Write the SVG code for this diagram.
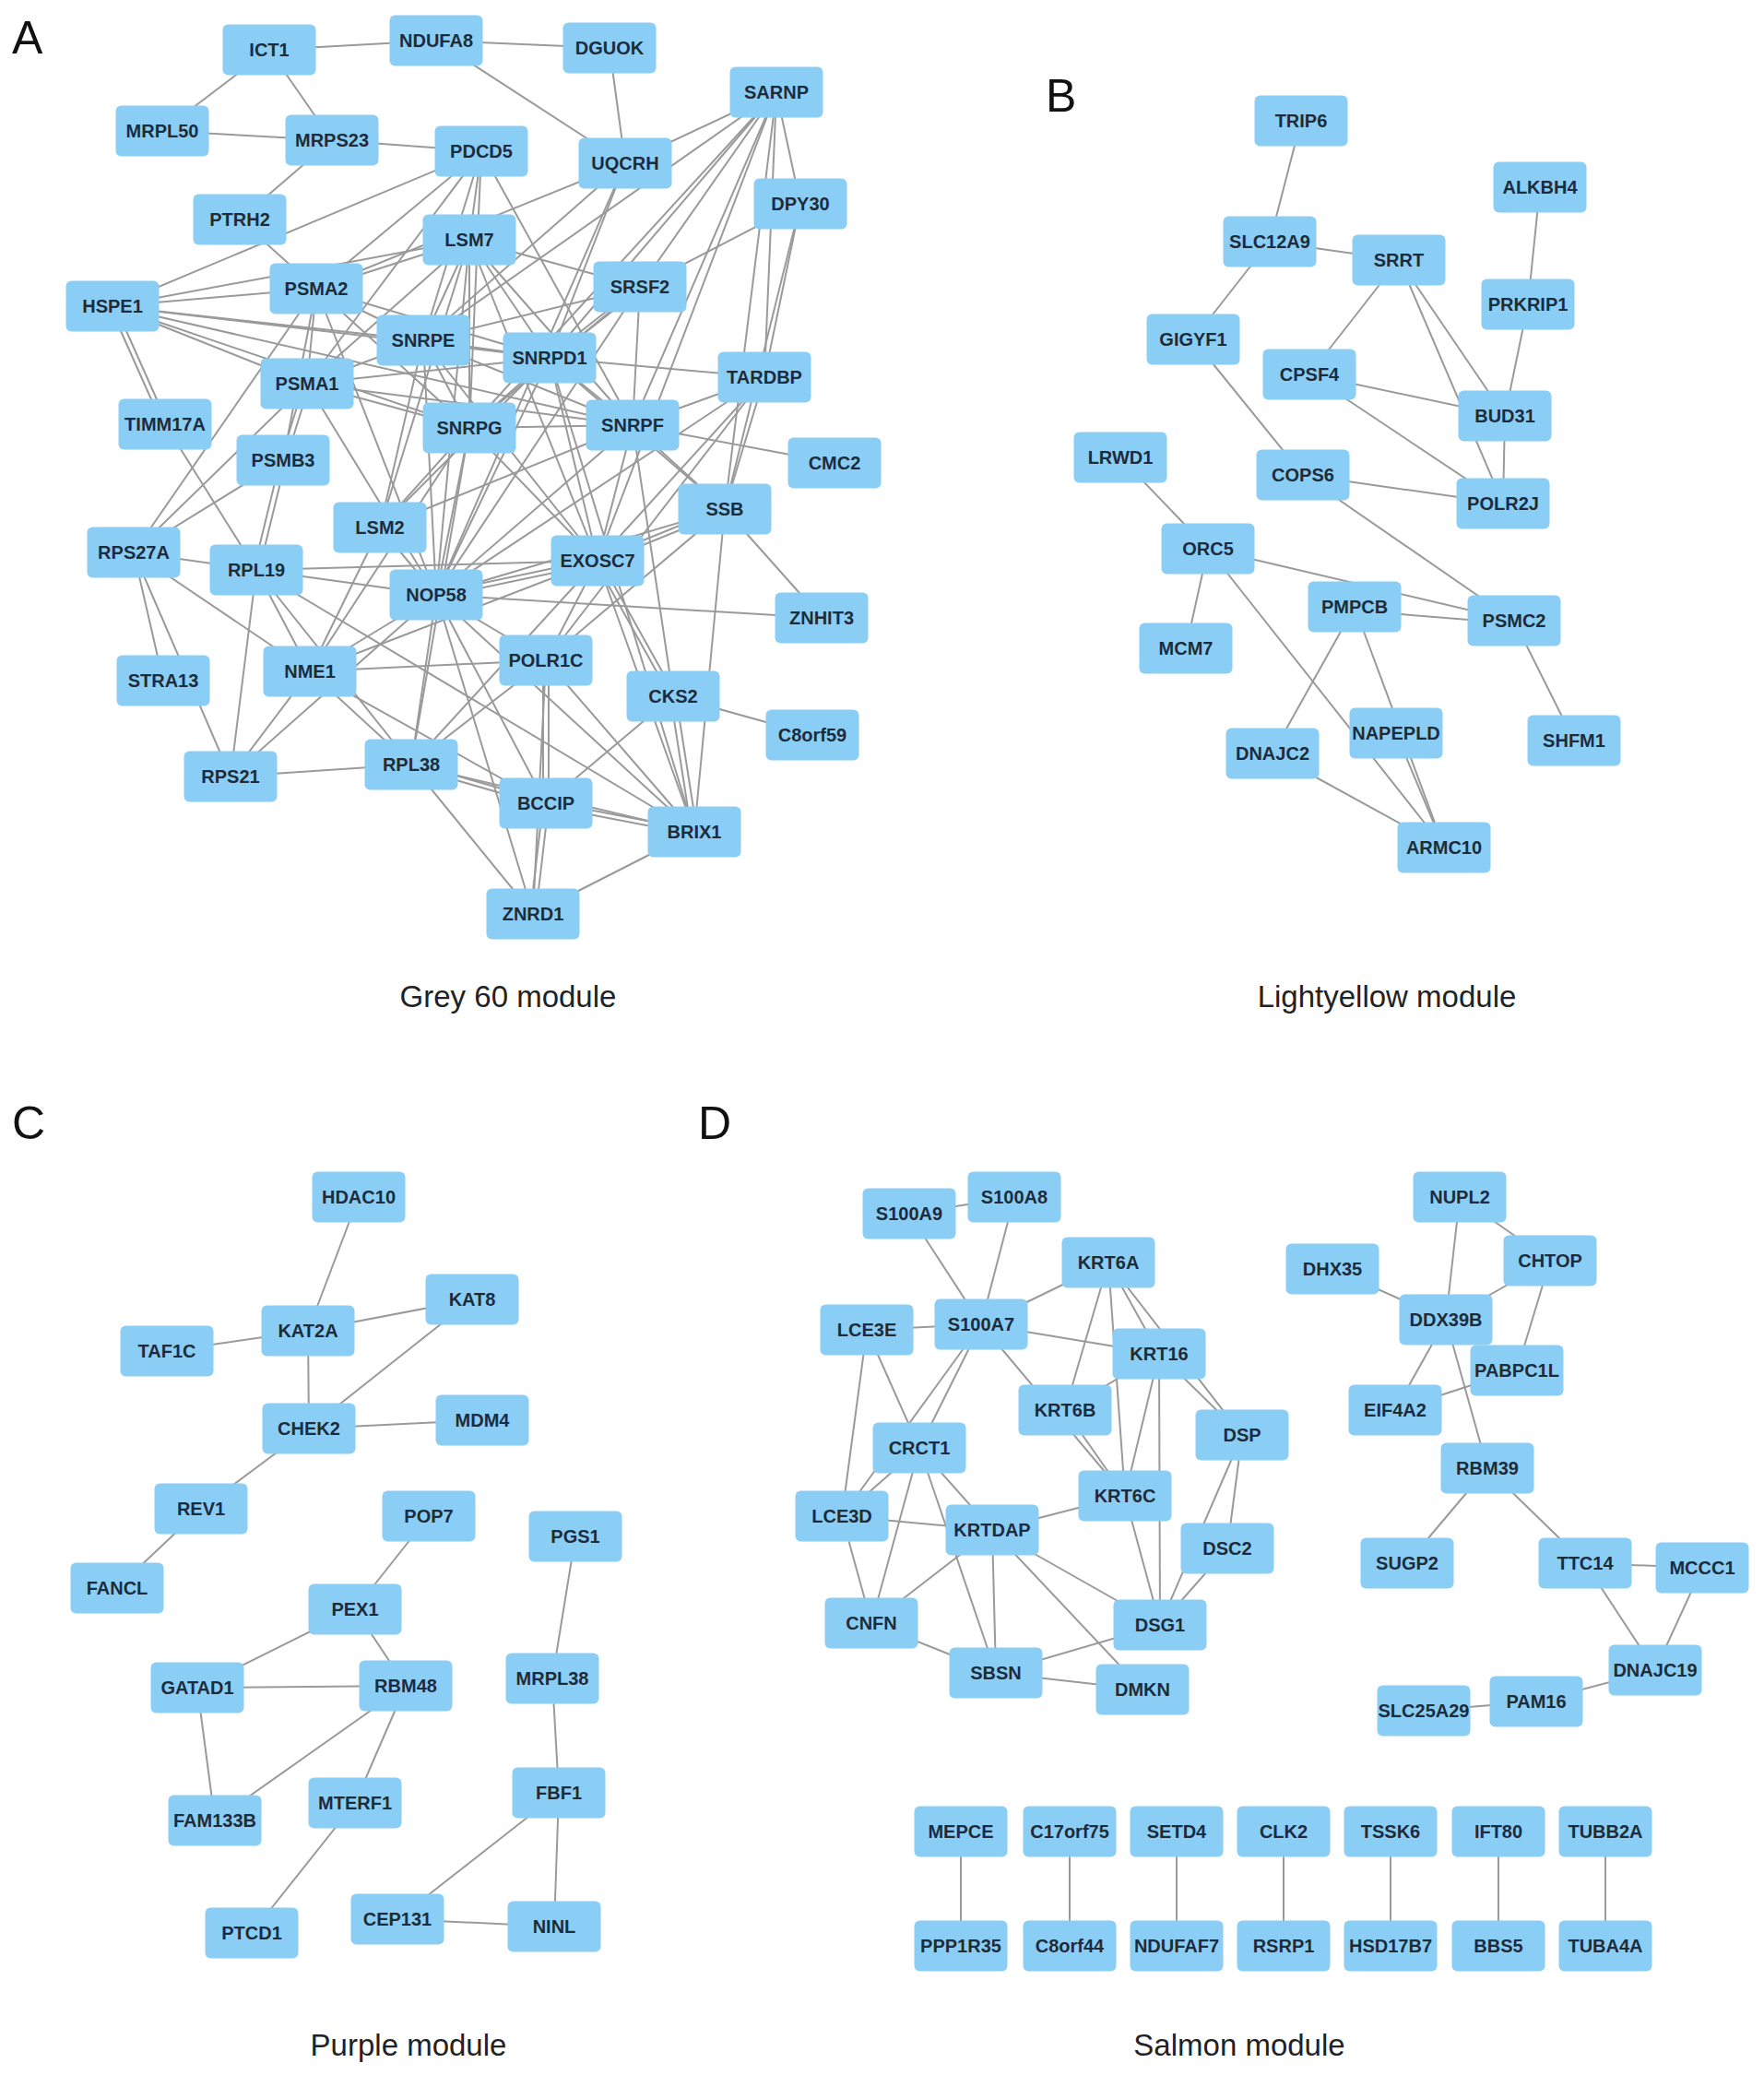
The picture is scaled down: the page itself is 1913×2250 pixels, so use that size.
<svg xmlns="http://www.w3.org/2000/svg" width="1913" height="2250" viewBox="0 0 1913 2250">
<style>
.n text{font-family:"Liberation Sans",Arial,sans-serif;font-weight:bold;font-size:20px;fill:#1d2c3b;text-anchor:middle;}
.e line{stroke:#9a9a9a;stroke-width:2;}
.lab{font-family:"Liberation Sans",Arial,sans-serif;font-size:50px;fill:#111;}
.title{font-family:"Liberation Sans",Arial,sans-serif;font-size:33px;fill:#222;text-anchor:middle;}
</style>
<defs>
<rect id="box" x="-50.5" y="-27.5" width="101" height="55" rx="6" fill="#8BCEF5"/>
</defs>
<rect width="1913" height="2250" fill="#fff"/>
<text class="lab" x="13" y="58">A</text>
<text class="lab" x="1134" y="121">B</text>
<text class="lab" x="13" y="1235">C</text>
<text class="lab" x="757" y="1235">D</text>
<text class="title" x="551" y="1092">Grey 60 module</text>
<text class="title" x="1504" y="1092">Lightyellow module</text>
<text class="title" x="443" y="2229">Purple module</text>
<text class="title" x="1344" y="2229">Salmon module</text>
<g id="edges" class="e">
<!-- Panel A -->
<line x1="292" y1="54" x2="473" y2="44"/>
<line x1="292" y1="54" x2="176" y2="142"/>
<line x1="292" y1="54" x2="360" y2="152"/>
<line x1="176" y1="142" x2="360" y2="152"/>
<line x1="360" y1="152" x2="522" y2="164"/>
<line x1="360" y1="152" x2="260" y2="238"/>
<line x1="473" y1="44" x2="661" y2="52"/>
<line x1="473" y1="44" x2="678" y2="177"/>
<line x1="661" y1="52" x2="678" y2="177"/>
<line x1="260" y1="238" x2="343" y2="313"/>
<line x1="122" y1="332" x2="522" y2="164"/>
<line x1="122" y1="332" x2="509" y2="260"/>
<line x1="122" y1="332" x2="343" y2="313"/>
<line x1="122" y1="332" x2="459" y2="369"/>
<line x1="122" y1="332" x2="596" y2="388"/>
<line x1="122" y1="332" x2="509" y2="464"/>
<line x1="122" y1="332" x2="333" y2="416"/>
<line x1="119" y1="332" x2="176" y2="460"/>
<line x1="125" y1="332" x2="182" y2="460"/>
<line x1="122" y1="332" x2="686" y2="461"/>
<line x1="522" y1="164" x2="509" y2="260"/>
<line x1="522" y1="164" x2="343" y2="313"/>
<line x1="522" y1="164" x2="459" y2="369"/>
<line x1="522" y1="164" x2="333" y2="416"/>
<line x1="522" y1="164" x2="686" y2="461"/>
<line x1="522" y1="164" x2="509" y2="464"/>
<line x1="678" y1="177" x2="343" y2="313"/>
<line x1="678" y1="177" x2="596" y2="388"/>
<line x1="678" y1="177" x2="459" y2="369"/>
<line x1="678" y1="177" x2="473" y2="645"/>
<line x1="842" y1="100" x2="678" y2="177"/>
<line x1="842" y1="100" x2="459" y2="369"/>
<line x1="842" y1="100" x2="509" y2="464"/>
<line x1="842" y1="100" x2="694" y2="311"/>
<line x1="842" y1="100" x2="596" y2="388"/>
<line x1="842" y1="100" x2="686" y2="461"/>
<line x1="842" y1="100" x2="868" y2="221"/>
<line x1="842" y1="100" x2="829" y2="409"/>
<line x1="842" y1="100" x2="786" y2="552"/>
<line x1="842" y1="100" x2="648" y2="608"/>
<line x1="868" y1="221" x2="694" y2="311"/>
<line x1="868" y1="221" x2="829" y2="409"/>
<line x1="868" y1="221" x2="786" y2="552"/>
<line x1="509" y1="260" x2="694" y2="311"/>
<line x1="509" y1="260" x2="459" y2="369"/>
<line x1="509" y1="260" x2="509" y2="464"/>
<line x1="509" y1="260" x2="596" y2="388"/>
<line x1="509" y1="260" x2="686" y2="461"/>
<line x1="509" y1="260" x2="333" y2="416"/>
<line x1="509" y1="260" x2="473" y2="645"/>
<line x1="509" y1="260" x2="648" y2="608"/>
<line x1="509" y1="260" x2="412" y2="572"/>
<line x1="509" y1="260" x2="343" y2="313"/>
<line x1="694" y1="311" x2="459" y2="369"/>
<line x1="694" y1="309" x2="596" y2="386"/>
<line x1="694" y1="314" x2="596" y2="391"/>
<line x1="694" y1="311" x2="686" y2="461"/>
<line x1="694" y1="311" x2="509" y2="464"/>
<line x1="694" y1="311" x2="473" y2="645"/>
<line x1="343" y1="313" x2="459" y2="369"/>
<line x1="343" y1="313" x2="333" y2="416"/>
<line x1="343" y1="313" x2="307" y2="499"/>
<line x1="343" y1="313" x2="596" y2="388"/>
<line x1="343" y1="313" x2="509" y2="464"/>
<line x1="343" y1="313" x2="473" y2="645"/>
<line x1="459" y1="369" x2="596" y2="388"/>
<line x1="459" y1="369" x2="509" y2="464"/>
<line x1="459" y1="369" x2="686" y2="461"/>
<line x1="459" y1="369" x2="333" y2="416"/>
<line x1="459" y1="369" x2="473" y2="645"/>
<line x1="459" y1="369" x2="412" y2="572"/>
<line x1="459" y1="369" x2="648" y2="608"/>
<line x1="596" y1="388" x2="829" y2="409"/>
<line x1="596" y1="388" x2="686" y2="461"/>
<line x1="596" y1="388" x2="509" y2="464"/>
<line x1="596" y1="388" x2="473" y2="645"/>
<line x1="596" y1="388" x2="648" y2="608"/>
<line x1="596" y1="388" x2="333" y2="416"/>
<line x1="596" y1="388" x2="412" y2="572"/>
<line x1="596" y1="388" x2="786" y2="552"/>
<line x1="596" y1="388" x2="753" y2="902"/>
<line x1="686" y1="461" x2="829" y2="409"/>
<line x1="686" y1="461" x2="905" y2="502"/>
<line x1="686" y1="461" x2="509" y2="464"/>
<line x1="686" y1="461" x2="473" y2="645"/>
<line x1="686" y1="461" x2="648" y2="608"/>
<line x1="686" y1="461" x2="412" y2="572"/>
<line x1="686" y1="461" x2="786" y2="552"/>
<line x1="686" y1="461" x2="333" y2="416"/>
<line x1="686" y1="461" x2="730" y2="755"/>
<line x1="829" y1="409" x2="473" y2="645"/>
<line x1="829" y1="409" x2="786" y2="552"/>
<line x1="829" y1="409" x2="648" y2="608"/>
<line x1="829" y1="409" x2="592" y2="716"/>
<line x1="333" y1="416" x2="509" y2="464"/>
<line x1="330" y1="416" x2="304" y2="499"/>
<line x1="336" y1="416" x2="310" y2="499"/>
<line x1="333" y1="416" x2="473" y2="645"/>
<line x1="333" y1="416" x2="145" y2="599"/>
<line x1="343" y1="313" x2="145" y2="599"/>
<line x1="307" y1="499" x2="145" y2="599"/>
<line x1="304" y1="499" x2="275" y2="618"/>
<line x1="310" y1="499" x2="281" y2="618"/>
<line x1="179" y1="460" x2="278" y2="618"/>
<line x1="509" y1="464" x2="473" y2="645"/>
<line x1="509" y1="464" x2="412" y2="572"/>
<line x1="509" y1="464" x2="648" y2="608"/>
<line x1="509" y1="464" x2="336" y2="728"/>
<line x1="509" y1="464" x2="446" y2="829"/>
<line x1="786" y1="550" x2="648" y2="606"/>
<line x1="786" y1="555" x2="648" y2="611"/>
<line x1="786" y1="552" x2="891" y2="670"/>
<line x1="786" y1="552" x2="753" y2="902"/>
<line x1="786" y1="552" x2="592" y2="716"/>
<line x1="786" y1="552" x2="473" y2="645"/>
<line x1="648" y1="606" x2="473" y2="643"/>
<line x1="648" y1="611" x2="473" y2="648"/>
<line x1="648" y1="608" x2="592" y2="716"/>
<line x1="645" y1="608" x2="727" y2="755"/>
<line x1="651" y1="608" x2="733" y2="755"/>
<line x1="648" y1="608" x2="753" y2="902"/>
<line x1="648" y1="608" x2="446" y2="829"/>
<line x1="648" y1="608" x2="336" y2="728"/>
<line x1="648" y1="608" x2="278" y2="618"/>
<line x1="473" y1="645" x2="891" y2="670"/>
<line x1="473" y1="645" x2="278" y2="618"/>
<line x1="473" y1="645" x2="412" y2="572"/>
<line x1="473" y1="645" x2="336" y2="728"/>
<line x1="473" y1="645" x2="446" y2="829"/>
<line x1="473" y1="645" x2="592" y2="716"/>
<line x1="473" y1="645" x2="592" y2="871"/>
<line x1="473" y1="645" x2="753" y2="902"/>
<line x1="473" y1="645" x2="250" y2="842"/>
<line x1="473" y1="645" x2="578" y2="991"/>
<line x1="592" y1="716" x2="336" y2="728"/>
<line x1="589" y1="716" x2="589" y2="871"/>
<line x1="595" y1="716" x2="595" y2="871"/>
<line x1="592" y1="716" x2="753" y2="902"/>
<line x1="592" y1="716" x2="578" y2="991"/>
<line x1="592" y1="716" x2="446" y2="829"/>
<line x1="730" y1="755" x2="881" y2="797"/>
<line x1="727" y1="755" x2="750" y2="902"/>
<line x1="733" y1="755" x2="756" y2="902"/>
<line x1="730" y1="755" x2="592" y2="871"/>
<line x1="592" y1="869" x2="446" y2="827"/>
<line x1="592" y1="874" x2="446" y2="832"/>
<line x1="592" y1="869" x2="753" y2="900"/>
<line x1="592" y1="874" x2="753" y2="905"/>
<line x1="589" y1="871" x2="575" y2="991"/>
<line x1="595" y1="871" x2="581" y2="991"/>
<line x1="753" y1="902" x2="578" y2="991"/>
<line x1="753" y1="902" x2="446" y2="829"/>
<line x1="578" y1="991" x2="446" y2="829"/>
<line x1="446" y1="829" x2="250" y2="842"/>
<line x1="446" y1="829" x2="336" y2="728"/>
<line x1="336" y1="728" x2="592" y2="871"/>
<line x1="145" y1="599" x2="278" y2="618"/>
<line x1="145" y1="599" x2="336" y2="728"/>
<line x1="145" y1="599" x2="177" y2="738"/>
<line x1="145" y1="599" x2="250" y2="842"/>
<line x1="278" y1="618" x2="336" y2="728"/>
<line x1="278" y1="618" x2="446" y2="829"/>
<line x1="278" y1="618" x2="250" y2="842"/>
<line x1="278" y1="618" x2="753" y2="902"/>
<line x1="336" y1="728" x2="412" y2="572"/>
<line x1="336" y1="728" x2="250" y2="842"/>
<!-- Panel B -->
<line x1="1411" y1="131" x2="1377" y2="262"/>
<line x1="1377" y1="262" x2="1517" y2="282"/>
<line x1="1377" y1="262" x2="1294" y2="368"/>
<line x1="1294" y1="368" x2="1413" y2="515"/>
<line x1="1517" y1="282" x2="1420" y2="406"/>
<line x1="1517" y1="282" x2="1632" y2="451"/>
<line x1="1517" y1="282" x2="1630" y2="546"/>
<line x1="1670" y1="203" x2="1657" y2="330"/>
<line x1="1657" y1="330" x2="1632" y2="451"/>
<line x1="1420" y1="406" x2="1632" y2="451"/>
<line x1="1420" y1="406" x2="1630" y2="546"/>
<line x1="1632" y1="451" x2="1630" y2="546"/>
<line x1="1215" y1="496" x2="1310" y2="595"/>
<line x1="1310" y1="595" x2="1286" y2="703"/>
<line x1="1310" y1="595" x2="1642" y2="673"/>
<line x1="1310" y1="595" x2="1566" y2="919"/>
<line x1="1413" y1="515" x2="1630" y2="546"/>
<line x1="1413" y1="515" x2="1642" y2="673"/>
<line x1="1469" y1="662" x2="1642" y2="676"/>
<line x1="1469" y1="658" x2="1380" y2="817"/>
<line x1="1469" y1="658" x2="1566" y2="919"/>
<line x1="1514" y1="795" x2="1566" y2="919"/>
<line x1="1380" y1="817" x2="1566" y2="919"/>
<line x1="1642" y1="673" x2="1707" y2="803"/>
<!-- Panel C -->
<line x1="389" y1="1298" x2="334" y2="1443"/>
<line x1="181" y1="1465" x2="334" y2="1443"/>
<line x1="334" y1="1443" x2="512" y2="1409"/>
<line x1="334" y1="1443" x2="335" y2="1549"/>
<line x1="512" y1="1409" x2="335" y2="1549"/>
<line x1="335" y1="1549" x2="523" y2="1540"/>
<line x1="335" y1="1549" x2="218" y2="1636"/>
<line x1="218" y1="1636" x2="127" y2="1722"/>
<line x1="465" y1="1644" x2="385" y2="1745"/>
<line x1="385" y1="1745" x2="214" y2="1830"/>
<line x1="385" y1="1745" x2="440" y2="1828"/>
<line x1="214" y1="1830" x2="440" y2="1828"/>
<line x1="214" y1="1830" x2="233" y2="1974"/>
<line x1="440" y1="1828" x2="233" y2="1974"/>
<line x1="440" y1="1828" x2="385" y2="1955"/>
<line x1="385" y1="1955" x2="273" y2="2096"/>
<line x1="624" y1="1666" x2="599" y2="1820"/>
<line x1="599" y1="1820" x2="606" y2="1944"/>
<line x1="606" y1="1944" x2="431" y2="2081"/>
<line x1="606" y1="1944" x2="601" y2="2089"/>
<line x1="431" y1="2081" x2="601" y2="2089"/>
<!-- Panel D -->
<line x1="986" y1="1316" x2="1100" y2="1298"/>
<line x1="986" y1="1316" x2="1064" y2="1436"/>
<line x1="1100" y1="1298" x2="1064" y2="1436"/>
<line x1="940" y1="1442" x2="1064" y2="1436"/>
<line x1="1064" y1="1436" x2="1202" y2="1369"/>
<line x1="1064" y1="1436" x2="1257" y2="1468"/>
<line x1="1064" y1="1436" x2="1220" y2="1622"/>
<line x1="1064" y1="1436" x2="997" y2="1570"/>
<line x1="1064" y1="1436" x2="913" y2="1644"/>
<line x1="940" y1="1442" x2="997" y2="1570"/>
<line x1="940" y1="1442" x2="913" y2="1644"/>
<line x1="997" y1="1570" x2="913" y2="1644"/>
<line x1="997" y1="1570" x2="945" y2="1760"/>
<line x1="997" y1="1570" x2="1076" y2="1659"/>
<line x1="997" y1="1570" x2="1080" y2="1814"/>
<line x1="913" y1="1644" x2="1076" y2="1659"/>
<line x1="913" y1="1644" x2="945" y2="1760"/>
<line x1="1076" y1="1659" x2="945" y2="1760"/>
<line x1="1076" y1="1659" x2="1080" y2="1814"/>
<line x1="1076" y1="1659" x2="1258" y2="1762"/>
<line x1="1076" y1="1659" x2="1239" y2="1832"/>
<line x1="1076" y1="1659" x2="1220" y2="1622"/>
<line x1="1202" y1="1369" x2="1155" y2="1529"/>
<line x1="1202" y1="1369" x2="1220" y2="1622"/>
<line x1="1202" y1="1369" x2="1257" y2="1468"/>
<line x1="1202" y1="1369" x2="1347" y2="1556"/>
<line x1="1257" y1="1468" x2="1155" y2="1529"/>
<line x1="1257" y1="1468" x2="1220" y2="1622"/>
<line x1="1257" y1="1468" x2="1258" y2="1762"/>
<line x1="1257" y1="1468" x2="1347" y2="1556"/>
<line x1="1155" y1="1529" x2="1220" y2="1622"/>
<line x1="1220" y1="1622" x2="1258" y2="1762"/>
<line x1="1347" y1="1556" x2="1331" y2="1679"/>
<line x1="1347" y1="1556" x2="1258" y2="1762"/>
<line x1="1331" y1="1679" x2="1258" y2="1762"/>
<line x1="1258" y1="1762" x2="1080" y2="1814"/>
<line x1="945" y1="1760" x2="1080" y2="1814"/>
<line x1="1080" y1="1814" x2="1239" y2="1832"/>
<line x1="1583" y1="1298" x2="1568" y2="1431"/>
<line x1="1583" y1="1298" x2="1681" y2="1367"/>
<line x1="1445" y1="1376" x2="1568" y2="1431"/>
<line x1="1681" y1="1367" x2="1568" y2="1431"/>
<line x1="1681" y1="1367" x2="1645" y2="1486"/>
<line x1="1568" y1="1431" x2="1513" y2="1529"/>
<line x1="1568" y1="1431" x2="1613" y2="1592"/>
<line x1="1513" y1="1529" x2="1645" y2="1486"/>
<line x1="1613" y1="1592" x2="1526" y2="1695"/>
<line x1="1613" y1="1592" x2="1719" y2="1695"/>
<line x1="1719" y1="1695" x2="1846" y2="1700"/>
<line x1="1719" y1="1695" x2="1795" y2="1811"/>
<line x1="1846" y1="1700" x2="1795" y2="1811"/>
<line x1="1795" y1="1811" x2="1666" y2="1845"/>
<line x1="1666" y1="1845" x2="1544" y2="1855"/>
<line x1="1042" y1="1986" x2="1042" y2="2110"/>
<line x1="1160" y1="1986" x2="1160" y2="2110"/>
<line x1="1276" y1="1986" x2="1276" y2="2110"/>
<line x1="1392" y1="1986" x2="1392" y2="2110"/>
<line x1="1508" y1="1986" x2="1508" y2="2110"/>
<line x1="1625" y1="1986" x2="1625" y2="2110"/>
<line x1="1741" y1="1986" x2="1741" y2="2110"/>
</g>
<g id="nodes">
<!-- Panel A -->
<g id="A-ICT1" class="n" transform="translate(292,54)"><use href="#box"/><text y="7">ICT1</text></g>
<g id="A-NDUFA8" class="n" transform="translate(473,44)"><use href="#box"/><text y="7">NDUFA8</text></g>
<g id="A-DGUOK" class="n" transform="translate(661,52)"><use href="#box"/><text y="7">DGUOK</text></g>
<g id="A-SARNP" class="n" transform="translate(842,100)"><use href="#box"/><text y="7">SARNP</text></g>
<g id="A-MRPL50" class="n" transform="translate(176,142)"><use href="#box"/><text y="7">MRPL50</text></g>
<g id="A-MRPS23" class="n" transform="translate(360,152)"><use href="#box"/><text y="7">MRPS23</text></g>
<g id="A-PDCD5" class="n" transform="translate(522,164)"><use href="#box"/><text y="7">PDCD5</text></g>
<g id="A-UQCRH" class="n" transform="translate(678,177)"><use href="#box"/><text y="7">UQCRH</text></g>
<g id="A-DPY30" class="n" transform="translate(868,221)"><use href="#box"/><text y="7">DPY30</text></g>
<g id="A-PTRH2" class="n" transform="translate(260,238)"><use href="#box"/><text y="7">PTRH2</text></g>
<g id="A-LSM7" class="n" transform="translate(509,260)"><use href="#box"/><text y="7">LSM7</text></g>
<g id="A-SRSF2" class="n" transform="translate(694,311)"><use href="#box"/><text y="7">SRSF2</text></g>
<g id="A-PSMA2" class="n" transform="translate(343,313)"><use href="#box"/><text y="7">PSMA2</text></g>
<g id="A-HSPE1" class="n" transform="translate(122,332)"><use href="#box"/><text y="7">HSPE1</text></g>
<g id="A-SNRPE" class="n" transform="translate(459,369)"><use href="#box"/><text y="7">SNRPE</text></g>
<g id="A-SNRPD1" class="n" transform="translate(596,388)"><use href="#box"/><text y="7">SNRPD1</text></g>
<g id="A-TARDBP" class="n" transform="translate(829,409)"><use href="#box"/><text y="7">TARDBP</text></g>
<g id="A-PSMA1" class="n" transform="translate(333,416)"><use href="#box"/><text y="7">PSMA1</text></g>
<g id="A-TIMM17A" class="n" transform="translate(179,460)"><use href="#box"/><text y="7">TIMM17A</text></g>
<g id="A-SNRPG" class="n" transform="translate(509,464)"><use href="#box"/><text y="7">SNRPG</text></g>
<g id="A-SNRPF" class="n" transform="translate(686,461)"><use href="#box"/><text y="7">SNRPF</text></g>
<g id="A-CMC2" class="n" transform="translate(905,502)"><use href="#box"/><text y="7">CMC2</text></g>
<g id="A-PSMB3" class="n" transform="translate(307,499)"><use href="#box"/><text y="7">PSMB3</text></g>
<g id="A-SSB" class="n" transform="translate(786,552)"><use href="#box"/><text y="7">SSB</text></g>
<g id="A-LSM2" class="n" transform="translate(412,572)"><use href="#box"/><text y="7">LSM2</text></g>
<g id="A-RPS27A" class="n" transform="translate(145,599)"><use href="#box"/><text y="7">RPS27A</text></g>
<g id="A-RPL19" class="n" transform="translate(278,618)"><use href="#box"/><text y="7">RPL19</text></g>
<g id="A-EXOSC7" class="n" transform="translate(648,608)"><use href="#box"/><text y="7">EXOSC7</text></g>
<g id="A-NOP58" class="n" transform="translate(473,645)"><use href="#box"/><text y="7">NOP58</text></g>
<g id="A-ZNHIT3" class="n" transform="translate(891,670)"><use href="#box"/><text y="7">ZNHIT3</text></g>
<g id="A-POLR1C" class="n" transform="translate(592,716)"><use href="#box"/><text y="7">POLR1C</text></g>
<g id="A-NME1" class="n" transform="translate(336,728)"><use href="#box"/><text y="7">NME1</text></g>
<g id="A-STRA13" class="n" transform="translate(177,738)"><use href="#box"/><text y="7">STRA13</text></g>
<g id="A-CKS2" class="n" transform="translate(730,755)"><use href="#box"/><text y="7">CKS2</text></g>
<g id="A-C8orf59" class="n" transform="translate(881,797)"><use href="#box"/><text y="7">C8orf59</text></g>
<g id="A-RPL38" class="n" transform="translate(446,829)"><use href="#box"/><text y="7">RPL38</text></g>
<g id="A-RPS21" class="n" transform="translate(250,842)"><use href="#box"/><text y="7">RPS21</text></g>
<g id="A-BCCIP" class="n" transform="translate(592,871)"><use href="#box"/><text y="7">BCCIP</text></g>
<g id="A-BRIX1" class="n" transform="translate(753,902)"><use href="#box"/><text y="7">BRIX1</text></g>
<g id="A-ZNRD1" class="n" transform="translate(578,991)"><use href="#box"/><text y="7">ZNRD1</text></g>
<!-- Panel B -->
<g id="B-TRIP6" class="n" transform="translate(1411,131)"><use href="#box"/><text y="7">TRIP6</text></g>
<g id="B-ALKBH4" class="n" transform="translate(1670,203)"><use href="#box"/><text y="7">ALKBH4</text></g>
<g id="B-SLC12A9" class="n" transform="translate(1377,262)"><use href="#box"/><text y="7">SLC12A9</text></g>
<g id="B-SRRT" class="n" transform="translate(1517,282)"><use href="#box"/><text y="7">SRRT</text></g>
<g id="B-PRKRIP1" class="n" transform="translate(1657,330)"><use href="#box"/><text y="7">PRKRIP1</text></g>
<g id="B-GIGYF1" class="n" transform="translate(1294,368)"><use href="#box"/><text y="7">GIGYF1</text></g>
<g id="B-CPSF4" class="n" transform="translate(1420,406)"><use href="#box"/><text y="7">CPSF4</text></g>
<g id="B-BUD31" class="n" transform="translate(1632,451)"><use href="#box"/><text y="7">BUD31</text></g>
<g id="B-LRWD1" class="n" transform="translate(1215,496)"><use href="#box"/><text y="7">LRWD1</text></g>
<g id="B-COPS6" class="n" transform="translate(1413,515)"><use href="#box"/><text y="7">COPS6</text></g>
<g id="B-POLR2J" class="n" transform="translate(1630,546)"><use href="#box"/><text y="7">POLR2J</text></g>
<g id="B-ORC5" class="n" transform="translate(1310,595)"><use href="#box"/><text y="7">ORC5</text></g>
<g id="B-PMPCB" class="n" transform="translate(1469,658)"><use href="#box"/><text y="7">PMPCB</text></g>
<g id="B-PSMC2" class="n" transform="translate(1642,673)"><use href="#box"/><text y="7">PSMC2</text></g>
<g id="B-MCM7" class="n" transform="translate(1286,703)"><use href="#box"/><text y="7">MCM7</text></g>
<g id="B-NAPEPLD" class="n" transform="translate(1514,795)"><use href="#box"/><text y="7">NAPEPLD</text></g>
<g id="B-DNAJC2" class="n" transform="translate(1380,817)"><use href="#box"/><text y="7">DNAJC2</text></g>
<g id="B-SHFM1" class="n" transform="translate(1707,803)"><use href="#box"/><text y="7">SHFM1</text></g>
<g id="B-ARMC10" class="n" transform="translate(1566,919)"><use href="#box"/><text y="7">ARMC10</text></g>
<!-- Panel C -->
<g id="C-HDAC10" class="n" transform="translate(389,1298)"><use href="#box"/><text y="7">HDAC10</text></g>
<g id="C-KAT8" class="n" transform="translate(512,1409)"><use href="#box"/><text y="7">KAT8</text></g>
<g id="C-KAT2A" class="n" transform="translate(334,1443)"><use href="#box"/><text y="7">KAT2A</text></g>
<g id="C-TAF1C" class="n" transform="translate(181,1465)"><use href="#box"/><text y="7">TAF1C</text></g>
<g id="C-CHEK2" class="n" transform="translate(335,1549)"><use href="#box"/><text y="7">CHEK2</text></g>
<g id="C-MDM4" class="n" transform="translate(523,1540)"><use href="#box"/><text y="7">MDM4</text></g>
<g id="C-REV1" class="n" transform="translate(218,1636)"><use href="#box"/><text y="7">REV1</text></g>
<g id="C-POP7" class="n" transform="translate(465,1644)"><use href="#box"/><text y="7">POP7</text></g>
<g id="C-PGS1" class="n" transform="translate(624,1666)"><use href="#box"/><text y="7">PGS1</text></g>
<g id="C-FANCL" class="n" transform="translate(127,1722)"><use href="#box"/><text y="7">FANCL</text></g>
<g id="C-PEX1" class="n" transform="translate(385,1745)"><use href="#box"/><text y="7">PEX1</text></g>
<g id="C-GATAD1" class="n" transform="translate(214,1830)"><use href="#box"/><text y="7">GATAD1</text></g>
<g id="C-RBM48" class="n" transform="translate(440,1828)"><use href="#box"/><text y="7">RBM48</text></g>
<g id="C-MRPL38" class="n" transform="translate(599,1820)"><use href="#box"/><text y="7">MRPL38</text></g>
<g id="C-FAM133B" class="n" transform="translate(233,1974)"><use href="#box"/><text y="7">FAM133B</text></g>
<g id="C-MTERF1" class="n" transform="translate(385,1955)"><use href="#box"/><text y="7">MTERF1</text></g>
<g id="C-FBF1" class="n" transform="translate(606,1944)"><use href="#box"/><text y="7">FBF1</text></g>
<g id="C-PTCD1" class="n" transform="translate(273,2096)"><use href="#box"/><text y="7">PTCD1</text></g>
<g id="C-CEP131" class="n" transform="translate(431,2081)"><use href="#box"/><text y="7">CEP131</text></g>
<g id="C-NINL" class="n" transform="translate(601,2089)"><use href="#box"/><text y="7">NINL</text></g>
<!-- Panel D -->
<g id="D-S100A9" class="n" transform="translate(986,1316)"><use href="#box"/><text y="7">S100A9</text></g>
<g id="D-S100A8" class="n" transform="translate(1100,1298)"><use href="#box"/><text y="7">S100A8</text></g>
<g id="D-KRT6A" class="n" transform="translate(1202,1369)"><use href="#box"/><text y="7">KRT6A</text></g>
<g id="D-LCE3E" class="n" transform="translate(940,1442)"><use href="#box"/><text y="7">LCE3E</text></g>
<g id="D-S100A7" class="n" transform="translate(1064,1436)"><use href="#box"/><text y="7">S100A7</text></g>
<g id="D-KRT16" class="n" transform="translate(1257,1468)"><use href="#box"/><text y="7">KRT16</text></g>
<g id="D-KRT6B" class="n" transform="translate(1155,1529)"><use href="#box"/><text y="7">KRT6B</text></g>
<g id="D-DSP" class="n" transform="translate(1347,1556)"><use href="#box"/><text y="7">DSP</text></g>
<g id="D-CRCT1" class="n" transform="translate(997,1570)"><use href="#box"/><text y="7">CRCT1</text></g>
<g id="D-KRT6C" class="n" transform="translate(1220,1622)"><use href="#box"/><text y="7">KRT6C</text></g>
<g id="D-LCE3D" class="n" transform="translate(913,1644)"><use href="#box"/><text y="7">LCE3D</text></g>
<g id="D-KRTDAP" class="n" transform="translate(1076,1659)"><use href="#box"/><text y="7">KRTDAP</text></g>
<g id="D-DSC2" class="n" transform="translate(1331,1679)"><use href="#box"/><text y="7">DSC2</text></g>
<g id="D-CNFN" class="n" transform="translate(945,1760)"><use href="#box"/><text y="7">CNFN</text></g>
<g id="D-DSG1" class="n" transform="translate(1258,1762)"><use href="#box"/><text y="7">DSG1</text></g>
<g id="D-SBSN" class="n" transform="translate(1080,1814)"><use href="#box"/><text y="7">SBSN</text></g>
<g id="D-DMKN" class="n" transform="translate(1239,1832)"><use href="#box"/><text y="7">DMKN</text></g>
<g id="D-NUPL2" class="n" transform="translate(1583,1298)"><use href="#box"/><text y="7">NUPL2</text></g>
<g id="D-DHX35" class="n" transform="translate(1445,1376)"><use href="#box"/><text y="7">DHX35</text></g>
<g id="D-CHTOP" class="n" transform="translate(1681,1367)"><use href="#box"/><text y="7">CHTOP</text></g>
<g id="D-DDX39B" class="n" transform="translate(1568,1431)"><use href="#box"/><text y="7">DDX39B</text></g>
<g id="D-PABPC1L" class="n" transform="translate(1645,1486)"><use href="#box"/><text y="7">PABPC1L</text></g>
<g id="D-EIF4A2" class="n" transform="translate(1513,1529)"><use href="#box"/><text y="7">EIF4A2</text></g>
<g id="D-RBM39" class="n" transform="translate(1613,1592)"><use href="#box"/><text y="7">RBM39</text></g>
<g id="D-SUGP2" class="n" transform="translate(1526,1695)"><use href="#box"/><text y="7">SUGP2</text></g>
<g id="D-TTC14" class="n" transform="translate(1719,1695)"><use href="#box"/><text y="7">TTC14</text></g>
<g id="D-MCCC1" class="n" transform="translate(1846,1700)"><use href="#box"/><text y="7">MCCC1</text></g>
<g id="D-DNAJC19" class="n" transform="translate(1795,1811)"><use href="#box"/><text y="7">DNAJC19</text></g>
<g id="D-PAM16" class="n" transform="translate(1666,1845)"><use href="#box"/><text y="7">PAM16</text></g>
<g id="D-SLC25A29" class="n" transform="translate(1544,1855)"><use href="#box"/><text y="7">SLC25A29</text></g>
<g id="D-MEPCE" class="n" transform="translate(1042,1986)"><use href="#box"/><text y="7">MEPCE</text></g>
<g id="D-C17orf75" class="n" transform="translate(1160,1986)"><use href="#box"/><text y="7">C17orf75</text></g>
<g id="D-SETD4" class="n" transform="translate(1276,1986)"><use href="#box"/><text y="7">SETD4</text></g>
<g id="D-CLK2" class="n" transform="translate(1392,1986)"><use href="#box"/><text y="7">CLK2</text></g>
<g id="D-TSSK6" class="n" transform="translate(1508,1986)"><use href="#box"/><text y="7">TSSK6</text></g>
<g id="D-IFT80" class="n" transform="translate(1625,1986)"><use href="#box"/><text y="7">IFT80</text></g>
<g id="D-TUBB2A" class="n" transform="translate(1741,1986)"><use href="#box"/><text y="7">TUBB2A</text></g>
<g id="D-PPP1R35" class="n" transform="translate(1042,2110)"><use href="#box"/><text y="7">PPP1R35</text></g>
<g id="D-C8orf44" class="n" transform="translate(1160,2110)"><use href="#box"/><text y="7">C8orf44</text></g>
<g id="D-NDUFAF7" class="n" transform="translate(1276,2110)"><use href="#box"/><text y="7">NDUFAF7</text></g>
<g id="D-RSRP1" class="n" transform="translate(1392,2110)"><use href="#box"/><text y="7">RSRP1</text></g>
<g id="D-HSD17B7" class="n" transform="translate(1508,2110)"><use href="#box"/><text y="7">HSD17B7</text></g>
<g id="D-BBS5" class="n" transform="translate(1625,2110)"><use href="#box"/><text y="7">BBS5</text></g>
<g id="D-TUBA4A" class="n" transform="translate(1741,2110)"><use href="#box"/><text y="7">TUBA4A</text></g>
</g>
</svg>
